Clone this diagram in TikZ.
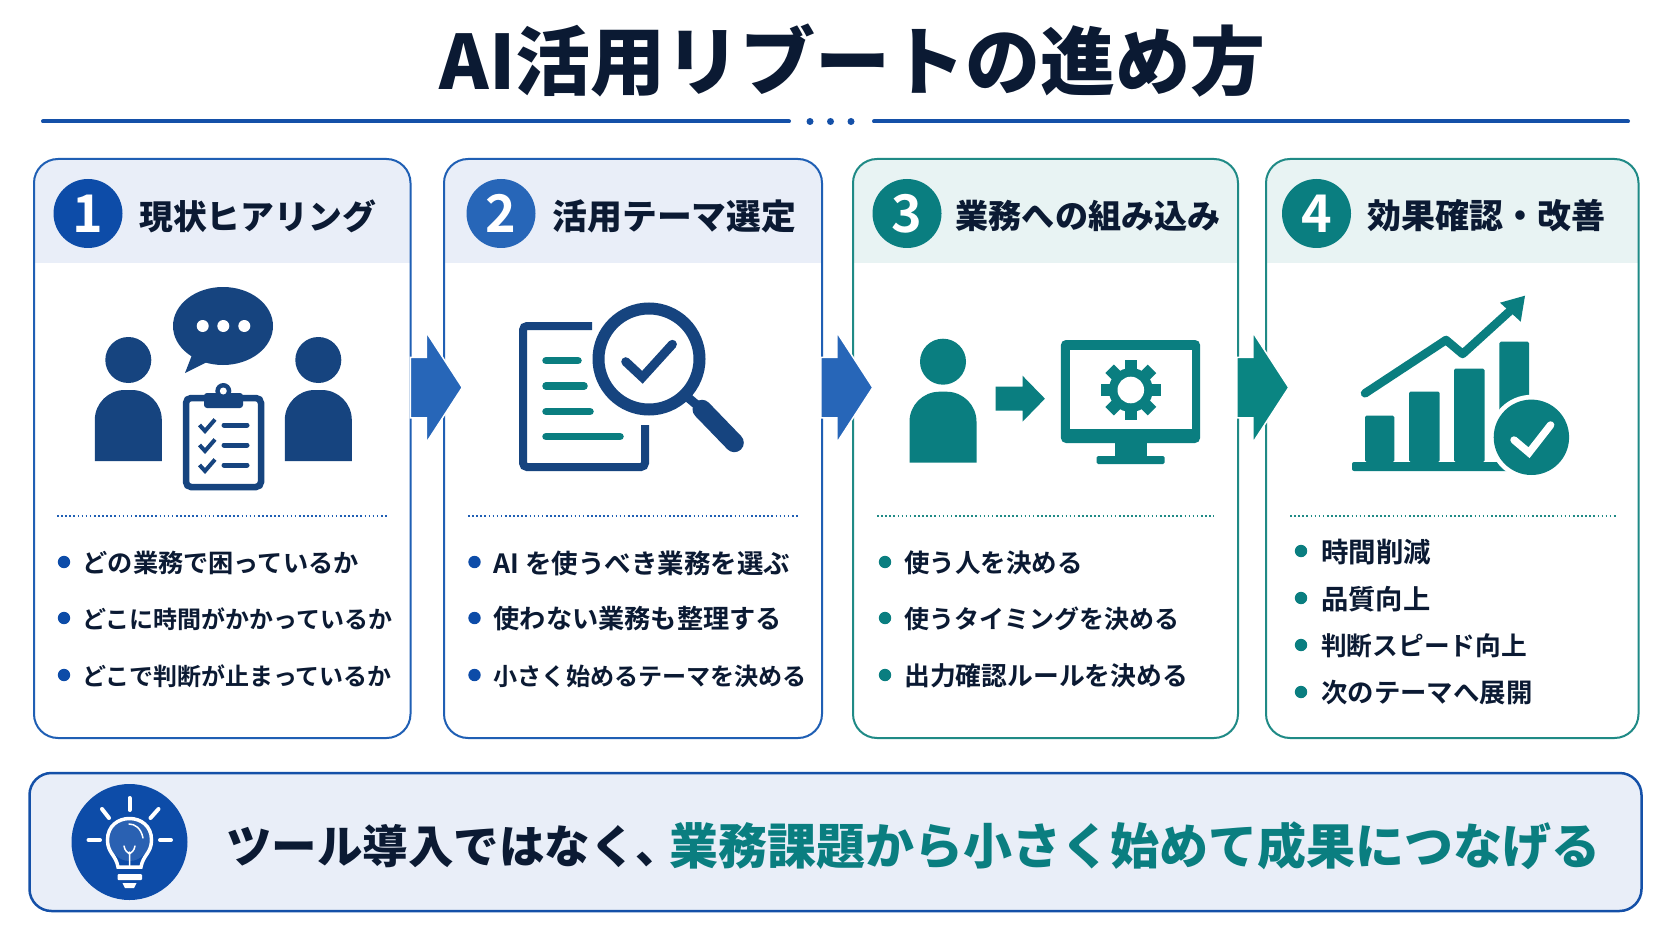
\documentclass[tikz,border=0pt]{standalone}
\usepackage{fontspec}
\setmainfont{Noto Sans CJK JP}[BoldFont={Noto Sans CJK JP Bold}]
\newfontfamily\jpblack{Noto Sans CJK JP Black}
\usetikzlibrary{shapes.arrows}
\definecolor{inkdark}{HTML}{0B1A33}
\definecolor{ruleblue}{HTML}{1450A8}
\definecolor{cardblue}{HTML}{1F5FB4}
\definecolor{paleblue}{HTML}{E9EEF8}
\definecolor{iconblue}{HTML}{16447F}
\definecolor{flowblue}{HTML}{2766B8}
\definecolor{numblue}{HTML}{0D4CA8}
\definecolor{cardteal}{HTML}{1F8A86}
\definecolor{paleteal}{HTML}{E8F3F3}
\definecolor{iconteal}{HTML}{0A7E80}
\definecolor{flowteal}{HTML}{0A8582}
\newcommand{\fsz}[1]{\fontsize{#1}{#1}\selectfont}
\tikzset{
  cardbox/.style={draw,line width=2pt,rounded corners=24pt,inner sep=0pt,minimum height=579},
  numdot/.style={circle,minimum size=69,inner sep=0pt,text=white,font=\bfseries\fsz{52}},
  headtext/.style={anchor=west,inner sep=0pt,text=inkdark,font=\jpblack},
  itemtext/.style={anchor=west,inner sep=0pt,text=inkdark},
  flowarrow/.style={single arrow,anchor=tail,inner sep=0pt,minimum height=52,
    single arrow head extend=25pt,single arrow tip angle=114,draw=white,line width=1.5pt},
  person/.pic={
    \fill (0,0) circle (23);
    \fill (-33.5,101) [rounded corners=30pt] -- (-33.5,30) -- (33.5,30) [sharp corners] -- (33.5,101) -- cycle;
  }
}
\begin{document}
\begin{tikzpicture}[x=1pt,y=-1pt]
\useasboundingbox[fill=white] (0,0) rectangle (1672,941);

% Title
\node[inner sep=0pt,text=inkdark,font=\jpblack\fsz{75}] (title) at (852.5,61) {AI活用リブートの進め方};
\draw[ruleblue,line width=4pt,line cap=round] (43,121.5) -- (789,121.5);
\draw[ruleblue,line width=4pt,line cap=round] (874,121.5) -- (1628,121.5);
\foreach \x in {810,830.5,851} {
  \fill[ruleblue] (\x,121.5) circle (3.5);
}

% Cards, headers and numbers
\foreach \n/\xa/\xb/\edge/\pale/\num/\numx/\numcol/\txtx/\hs/\txt in {
  1/34/410.5/cardblue/paleblue/1/88/numblue/139/33.8/現状ヒアリング,
  2/444/822/cardblue/paleblue/2/501/flowblue/552.5/34.8/活用テーマ選定,
  3/853/1238/cardteal/paleteal/3/907/iconteal/955.5/33.1/業務への組み込み,
  4/1266/1638.5/cardteal/paleteal/4/1316.5/iconteal/1367.5/34/効果確認・改善} {
  \fill[\pale] (\xa,263) [rounded corners=24pt] -- (\xa,159) -- (\xb,159) [sharp corners] -- (\xb,263) -- cycle;
  \node[cardbox,draw=\edge,minimum width=\xb-\xa] (card\n) at ({(\xa+\xb)/2},448.5) {};
  \node[numdot,fill=\numcol] (num\n) at (\numx,213.5) {\num};
  \node[headtext,font=\jpblack\fsz{\hs}] (head\n) at (\txtx,216) {\txt};
}

% Dotted separators
\foreach \xa/\xb/\col in {57/388/cardblue,468/798/cardblue,877/1214/cardteal,1290/1616/cardteal} {
  \draw[\col,line width=1.6pt,dash pattern=on 1.6pt off 2.5pt] (\xa,516) -- (\xb,516);
}

% Bullet lists
\foreach \bx/\tx/\col/\lst in {
  64/82.5/numblue/{563/25.2/どの業務で困っているか,619/24/どこに時間がかかっているか,676/24/どこで判断が止まっているか},
  474.5/493.5/numblue/{563/26.5/AI を使うべき業務を選ぶ,619/26.2/使わない業務も整理する,676/24.1/小さく始めるテーマを決める},
  885/904/iconteal/{563/25.5/使う人を決める,619/25/使うタイミングを決める,676/25.8/出力確認ルールを決める},
  1301/1321/iconteal/{552/27.5/時間削減,599/27.3/品質向上,646/25.7/判断スピード向上,693/26.4/次のテーマへ展開}} {
  \foreach \y/\fs/\item in \lst {
    \fill[\col] (\bx,\y-1) circle (6.2);
    \node[itemtext,font=\bfseries\fsz{\fs}] at (\tx,\y) {\item};
  }
}

% Card 1 icon
\begin{scope}[iconblue]
\pic[iconblue] at (128.3,360) {person};
\pic[iconblue] at (318.3,360) {person};
\fill (223,326) ellipse (50 and 39);
\fill (192,355) -- (185,373) -- (207,362) -- cycle;
\foreach \x in {202.7,223.3,244.3} {
  \fill[white] (\x,326) circle (6);
}
\draw[line width=6.5pt,rounded corners=5pt] (186,398) rectangle (261,487);
\fill[rounded corners=3pt] (204,393) rectangle (243,408);
\fill (223.3,391) circle (8);
\fill[white] (223.3,391) circle (3.5);
\foreach \y in {425,445,465} {
  \draw[line width=4pt] (199.5,\y) -- (205,\y+6) -- (215,\y-5.5);
  \draw[line width=5pt,line cap=round] (224,\y) -- (247,\y);
}
\end{scope}

% Card 2 icon
\draw[iconblue,line width=8pt,rounded corners=4pt] (645,425) -- (645,467) -- (523,467) -- (523,326) -- (592,326);
\foreach \y/\xe in {360.7/578,386/584,411.7/590,436.7/620} {
  \draw[iconteal,line width=7.5pt,line cap=round] (546,\y) -- (\xe,\y);
}
\draw[iconblue,line width=12pt] (649,359) circle (50.5);
\draw[iconblue,line width=9pt] (685,395) -- (704,411);
\draw[iconblue,line width=19pt,line cap=round] (702,409.3) -- (734.3,442.7);
\draw[iconblue,line width=9pt,line cap=round] (625.7,361.7) -- (642.4,377.3) -- (672.4,344.3);

% Card 3 icon
\pic[iconteal] at (943,361.7) {person};
\begin{scope}[xshift=-1.5pt]
\fill[iconteal] (997,386.7) -- (1024,386.7) -- (1024,375.7) -- (1046.4,398.7) -- (1024,421.7) -- (1024,410.7) -- (997,410.7) -- cycle;
\fill[iconteal,rounded corners=5pt] (1062.4,340) rectangle (1201.6,443);
\fill[white] (1071,350) rectangle (1193,429.3);
\fill[iconteal] (1116,443) rectangle (1148,456);
\fill[iconteal,rounded corners=1.5pt] (1098,456) rectangle (1166,464);
\foreach \a in {0,45,...,315} {
  \fill[iconteal,rotate around={\a:(1132.3,390)}] (1126.3,360) rectangle (1138.3,372);
}
\fill[iconteal] (1132.3,390) circle (22);
\fill[white] (1132.3,390) circle (13.3);
\end{scope}

% Card 4 icon
\begin{scope}[xshift=-3pt]
\foreach \xa/\xb/\yt in {1368/1397.3/415.7,1412/1442.7/391.7,1457/1487.5/368.7,1502.4/1532/341.7} {
  \fill[iconteal,rounded corners=1.5pt] (\xa,462) -- (\xa,\yt) -- (\xb,\yt) -- (\xb,462) -- cycle;
}
\fill[iconteal,rounded corners=2pt] (1355,462) rectangle (1512,471);
\draw[iconteal,line width=8.5pt,line cap=round,line join=round] (1368,393.3) -- (1449,340) -- (1465.6,354) -- (1514,310);
\fill[iconteal] (1528,295.7) -- (1503,302.7) -- (1523.7,321.7) -- cycle;
\fill[white] (1534.4,437.3) circle (42.5);
\fill[iconteal] (1534.4,437.3) circle (37.7);
\draw[white,line width=7.5pt,line cap=round] (1517,440) -- (1532,452.7) -- (1553.6,425);
\end{scope}

% Arrows between cards
\foreach \n/\x/\col in {a/409.5/flowblue,b/820/flowblue,c/1236/flowteal} {
  \node[flowarrow,fill=\col] (flow\n) at (\x,387.5) {\rule{0pt}{59pt}};
}

% Bottom message
\node[draw=ruleblue,fill=paleblue,line width=2.5pt,rounded corners=22pt,minimum width=1612,minimum height=138,inner sep=0pt] (msg) at (835.5,842) {};
\node[circle,fill=numblue,minimum size=116,inner sep=0pt] (lamp) at (129.5,842) {};
\begin{scope}[white,line cap=round]
\foreach \xa/\ya/\xb/\yb in {129.5/798/129.5/810,102/809/109/818,158.5/809/150.5/818,88.5/840/100/840,160/840/171/840} {
  \draw[line width=4pt] (\xa,\ya) -- (\xb,\yb);
}
\fill[white,opacity=0.12] (129.5,840) ellipse (20 and 21);
\draw[line width=3.5pt] (118,867) .. controls (116,855) and (107.5,853) .. (107.5,840)
  .. controls (107.5,826) and (118,818.5) .. (129.5,818.5)
  .. controls (141,818.5) and (151.5,826) .. (151.5,840)
  .. controls (151.5,853) and (143,855) .. (141,867) -- cycle;
\draw[line width=1.5pt] (129.5,867) -- (129.5,852) (124,846) .. controls (125,851) and (127,852) .. (129.5,854) .. controls (132,852) and (134,851) .. (135,846);
\draw[line width=1.5pt] (129,824) .. controls (135,824) and (141,828) .. (143,838);
\fill[rounded corners=1pt] (117.5,874) rectangle (142,880);
\fill (122.5,883) -- (136.5,883) -- (134,888) -- (125,888) -- cycle;
\end{scope}
\node[anchor=west,inner sep=0pt,text=inkdark,font=\jpblack\fsz{45.5}] (msga) at (226,846) {ツール導入ではなく、};
\node[anchor=west,inner sep=0pt,text=iconteal,font=\jpblack\fsz{49}] (msgb) at (669.5,846) {業務課題から小さく始めて成果につなげる};
\end{tikzpicture}
\end{document}
